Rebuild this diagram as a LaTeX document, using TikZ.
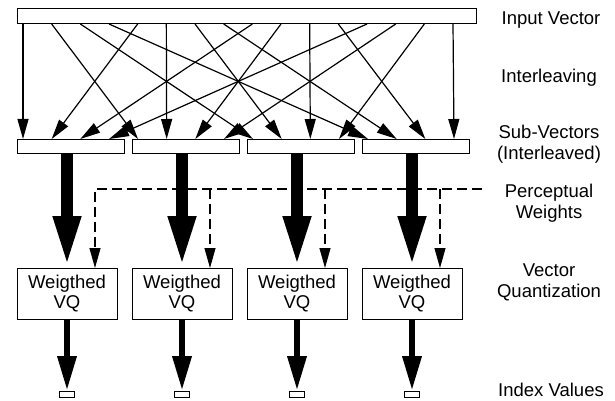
\documentclass[tikz,border=0pt]{standalone}
\usepackage{fontspec}
\setmainfont{Liberation Sans}
\usepackage{tikz}
\usetikzlibrary{positioning}
\usetikzlibrary{arrows.meta}

\begin{document}
\begin{tikzpicture}[
        x=1pt, y=-1pt,
        bar/.style = {
            draw,
            line width = 1pt,
            minimum width = #1,
            inner sep = 0pt,
            outer sep = 0pt
        },
        bar/.default = 107pt,
        vqbox/.style = {
            draw,
            line width = 1pt,
            minimum width = 100pt,
            minimum height = 51pt,
            inner sep = 0pt,
            outer sep = 0pt,
            align = center,
            font = \fontsize{18.5pt}{20pt}\selectfont
        },
        idxbox/.style = {
            draw,
            line width = 1pt,
            minimum width = 15pt,
            minimum height = 6pt,
            inner sep = 0pt,
            outer sep = 0pt
        },
        feed/.style = {line width = 1.2pt, -{Triangle[length=20pt, width=11pt]}},
        weight/.style = {line width = 1.1pt, dash pattern = on 10pt off 5pt,
            -{Triangle[length=20pt, width=11pt]}},
        bigflow/.style = {line width = 12pt, -{Triangle[length=52pt, width=25pt]}},
        outflow/.style = {line width = 6.5pt, -{Triangle[length=35pt, width=18pt]}},
        lbl/.style = {anchor = base, align = center,
            font = \fontsize{18.5pt}{21pt}\selectfont}
    ]
    \useasboundingbox (0,0) rectangle (615,401);
    % input vector
    \node[bar=459pt, minimum height=15pt, anchor=north west] (invec) at (17,9) {};
    % sub-vectors
    \node[bar, minimum height=14pt, anchor=north west] (sv1) at (17,139) {};
    \node[bar, minimum height=14pt, right=8pt of sv1] (sv2) {};
    \node[bar, minimum height=14pt, right=8pt of sv2] (sv3) {};
    \node[bar, minimum height=14pt, right=8pt of sv3] (sv4) {};
    % weighted VQ
    \node[vqbox, anchor=north west] (vq1) at (17,268) {Weigthed\\VQ};
    \node[vqbox, right=15pt of vq1] (vq2) {Weigthed\\VQ};
    \node[vqbox, right=15pt of vq2] (vq3) {Weigthed\\VQ};
    \node[vqbox, right=15pt of vq3] (vq4) {Weigthed\\VQ};
    % index values
    \foreach \k in {1,...,4}
        \node[idxbox, below=72pt of vq\k] (idx\k) {};
    %
    % interleaving
    \foreach \i in {0,...,15}
        \coordinate (in\i) at ([xshift={6pt+\i*28.667pt}]invec.south west);
    \foreach \k in {1,...,4}
        \foreach \m in {0,...,3}
            \coordinate (sv\k-\m) at ([xshift={6pt+\m*28.667pt}]sv\k.north west);
    \foreach \i in {0,...,15} {
        \pgfmathtruncatemacro{\svnum}{mod(\i,4)+1}
        \pgfmathtruncatemacro{\pos}{floor(\i/4)}
        \draw[feed] (in\i) -- (sv\svnum-\pos);
    }
    %
    % perceptual weights
    \coordinate (pwend) at (482,189);
    \foreach \k in {1,...,4}
        \coordinate (wt\k) at ([xshift=28pt]vq\k.north);
    \draw[weight] (pwend) -- (wt1 |- pwend) -- (wt1);
    \foreach \k in {2,3,4}
        \draw[weight] (wt\k |- pwend) -- (wt\k);
    %
    % sub-vectors into VQ, VQ out to index
    \foreach \k in {1,...,4} {
        \draw[bigflow] (vq\k.north |- sv\k.south) -- (vq\k.north);
        \draw[outflow] (vq\k.south) -- (idx\k.north);
    }
    %
    % labels (base = last line)
    \node[lbl] (l-in) at (551,25) {Input Vector};
    \node[lbl] (l-il) at (549,83) {Interleaving};
    \node[lbl] (l-sv) at (549,159) {Sub-Vectors\\(Interleaved)};
    \node[lbl] (l-pw) at (549,218) {Perceptual\\Weights};
    \node[lbl] (l-vq) at (549,297) {Vector\\Quantization};
    \node[lbl] (l-ix) at (551,396) {Index Values};
\end{tikzpicture}
\end{document}
